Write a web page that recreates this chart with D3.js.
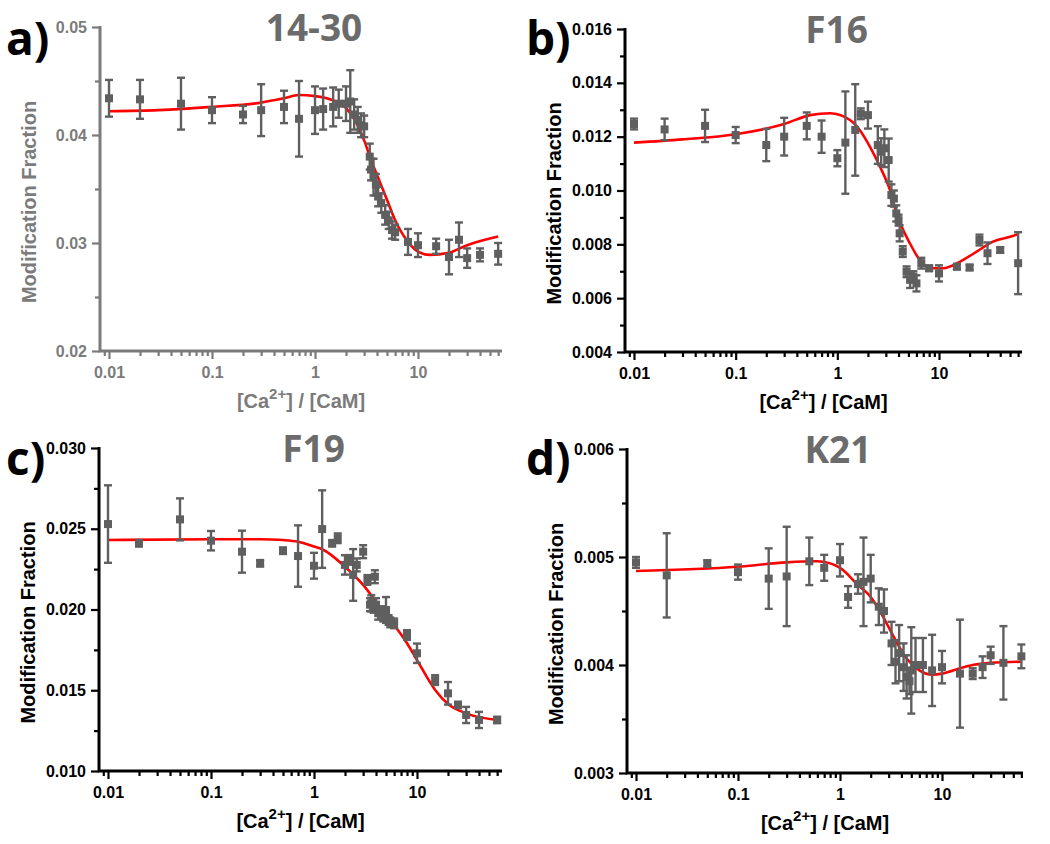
<!DOCTYPE html>
<html><head><meta charset="utf-8">
<script src="https://cdn.jsdelivr.net/npm/d3@7"></script>
<style>body{margin:0;background:#fff}</style>
</head><body><svg id="chart" width="1050" height="844"></svg>
<script>
// ---------- data ----------
const panelLetters = ["a)", "b)", "c)", "d)"];
const panelTitles = ["14-30", "F16", "F19", "K21"];
const xTickValues = [0.01, 0.1, 1, 10];
const xTickLabels = ["0.01", "0.1", "1", "10"];
const xLabelMain = "[Ca";
const xLabelSup = "2+";
const xLabelEnd = "] / [CaM]";
const yLabel = "Modification Fraction";

const yTicksA = [0.02, 0.03, 0.04, 0.05];
const yTicksB = [0.004, 0.006, 0.008, 0.010, 0.012, 0.014, 0.016];
const yTicksC = [0.010, 0.015, 0.020, 0.025, 0.030];
const yTicksD = [0.003, 0.004, 0.005, 0.006];

// panel a: 14-30
const aX = [0.01,0.02,0.05,0.1,0.2,0.3,0.5,0.7,1.0,1.2,1.5,1.7,2.0,2.2,2.4,2.6,2.8,3.0,3.4,3.5,3.7,3.9,4.1,4.4,4.8,5.2,5.6,6.0,8,10,15,20,25,30,40,60];
const aY = [0.0434,0.0433,0.0429,0.0423,0.0419,0.0423,0.0426,0.0415,0.0423,0.0424,0.0426,0.0429,0.0429,0.0431,0.0419,0.0414,0.0409,0.0408,0.0380,0.0368,0.0361,0.0354,0.0343,0.0337,0.0326,0.0321,0.0312,0.0310,0.0301,0.0298,0.0297,0.0287,0.0303,0.0286,0.0289,0.0290];
const aErr = [0.0017,0.0018,0.0024,0.0012,0.0008,0.0024,0.0015,0.0035,0.0022,0.0019,0.0018,0.0013,0.0016,0.0029,0.0014,0.0012,0.0011,0.0010,0.0012,0.0010,0.0017,0.0010,0.0009,0.0009,0.0009,0.0008,0.0008,0.0007,0.0012,0.0011,0.0007,0.0016,0.0016,0.0009,0.0006,0.0010];
const aFitX = [0.01,0.03,0.1,0.3,0.5,0.7,1.0,1.3,1.6,2,2.5,3,3.5,4,5,6,8,10,13,20,30,60];
const aFitY = [0.0422,0.0423,0.0426,0.0430,0.0434,0.0437,0.0436,0.0434,0.0431,0.0425,0.0412,0.0395,0.0377,0.0363,0.0340,0.0321,0.0301,0.0292,0.0289,0.0291,0.0298,0.0306];

// panel b: F16
const bX = [0.01,0.02,0.05,0.1,0.2,0.3,0.5,0.7,1.0,1.2,1.5,1.7,2.0,2.5,2.7,2.9,3.2,3.4,3.6,3.8,4.0,4.1,4.4,4.8,5.2,5.6,6.0,6.7,8,10,15,20,25,30,40,60];
const bY = [0.01247,0.01227,0.01240,0.01206,0.01169,0.01200,0.01240,0.01200,0.01120,0.01178,0.01225,0.01285,0.01280,0.01169,0.01144,0.01157,0.01113,0.00983,0.00970,0.00915,0.00890,0.00841,0.00773,0.00698,0.00668,0.00680,0.00655,0.00730,0.00711,0.00692,0.00717,0.00714,0.00816,0.00767,0.00779,0.00730];
const bErr = [0.0002,0.0004,0.0006,0.0003,0.0006,0.0007,0.0005,0.0006,0.0003,0.0019,0.0017,0.0002,0.0005,0.0007,0.0005,0.0007,0.0008,0.0004,0.0003,0.0003,0.0002,0.0003,0.0002,0.0002,0.0003,0.0002,0.0003,0.0002,0.0001,0.0003,0.0001,0.0001,0.0002,0.0004,0.0001,0.00115];
const bFitX = [0.01,0.03,0.1,0.3,0.54,0.85,1.33,1.66,2.09,2.63,3.29,3.83,4.29,5.17,6.46,8.77,11,16,23.5,34,50,60];
const bFitY = [0.01178,0.01190,0.01209,0.01247,0.01280,0.01287,0.01262,0.01225,0.01163,0.01088,0.01002,0.00915,0.00866,0.00804,0.00742,0.00711,0.00711,0.00735,0.00773,0.00810,0.00828,0.00838];

// panel c: F19
const cX = [0.01,0.02,0.05,0.1,0.2,0.3,0.5,0.7,1.0,1.2,1.5,1.7,2.0,2.2,2.4,2.6,3.0,3.3,3.5,3.6,3.8,3.9,4.0,4.2,4.5,4.7,5.0,5.3,5.5,6.0,8,10,15,20,25,30,40,60];
const cY = [0.02529,0.02410,0.02558,0.02426,0.02358,0.02286,0.02364,0.02331,0.02271,0.02498,0.02410,0.02441,0.02276,0.02307,0.02214,0.02276,0.02358,0.02183,0.02030,0.02038,0.02010,0.02203,0.02030,0.01977,0.01990,0.01956,0.01997,0.01935,0.01920,0.01914,0.01842,0.01729,0.01563,0.01481,0.01409,0.01347,0.01316,0.01316];
const cErr = [0.0024,0.0002,0.0013,0.0006,0.0013,0.0002,0.0002,0.0019,0.0008,0.0024,0.0002,0.0003,0.0006,0.0003,0.0016,0.0004,0.0004,0.0003,0.0004,0.0005,0.0003,0.0004,0.0004,0.0004,0.0003,0.0003,0.0008,0.0003,0.0003,0.0003,0.0003,0.0006,0.0003,0.0007,0.0002,0.0005,0.0005,0.0002];
const cFitX = [0.01,0.1,0.3,0.5,0.7,1.0,1.2,2,3,4,5,6,8,10,15,20,30,60];
const cFitY = [0.0243,0.02435,0.02435,0.0243,0.0242,0.0239,0.02373,0.02265,0.02152,0.02048,0.01966,0.01904,0.01791,0.01687,0.01502,0.01415,0.01357,0.01316];

// panel d: K21
const dX = [0.01,0.02,0.05,0.1,0.2,0.3,0.5,0.7,1.0,1.2,1.5,1.7,2.0,2.4,2.7,3.2,3.5,3.8,4.2,4.5,4.8,5.0,5.5,6.5,8,10,15,20,25,30,40,60];
const dY = [0.00495,0.00483,0.00494,0.00486,0.00480,0.00482,0.00496,0.00490,0.00497,0.00463,0.00475,0.00477,0.00480,0.00454,0.00450,0.00420,0.00403,0.00411,0.00398,0.00389,0.00385,0.00395,0.00400,0.00400,0.00395,0.00398,0.00392,0.00392,0.00398,0.00409,0.00402,0.00408];
const dErr = [0.00005,0.00039,0.00003,0.00007,0.00028,0.00046,0.00022,0.00012,0.00015,0.00010,0.00009,0.00041,0.00022,0.00017,0.00020,0.00020,0.00020,0.00026,0.00022,0.00020,0.00012,0.00040,0.00025,0.00025,0.00033,0.00015,0.00050,0.00005,0.00010,0.00008,0.00034,0.00011];
const dFitX = [0.01,0.1,0.3,0.6,1.0,1.5,2,2.6,3.5,4.5,6,8,10,15,20,30,60];
const dFitY = [0.00487,0.00491,0.00495,0.00496,0.00490,0.00474,0.00463,0.00446,0.00423,0.00406,0.00395,0.00391,0.00392,0.00397,0.00400,0.00402,0.00403];

// ---------- layout ----------
const panels = [
  {letter:panelLetters[0], title:panelTitles[0], xs:aX, ys:aY, es:aErr, fx:aFitX, fy:aFitY, yTicks:yTicksA, fmt:".2f",
   axisX:100, x01:109, x10:418, xEnd:502, yTop:27, yBot:351, axisColor:"#7b7b7b", textColor:"#7b7b7b", letterX:6, letterY:55},
  {letter:panelLetters[1], title:panelTitles[1], xs:bX, ys:bY, es:bErr, fx:bFitX, fy:bFitY, yTicks:yTicksB, fmt:".3f",
   axisX:625, x01:634, x10:939, xEnd:1022, yTop:29, yBot:352, axisColor:"#000", textColor:"#000", letterX:526, letterY:55},
  {letter:panelLetters[2], title:panelTitles[2], xs:cX, ys:cY, es:cErr, fx:cFitX, fy:cFitY, yTicks:yTicksC, fmt:".3f",
   axisX:99, x01:108, x10:417, xEnd:502, yTop:448, yBot:771, axisColor:"#000", textColor:"#000", letterX:6, letterY:475},
  {letter:panelLetters[3], title:panelTitles[3], xs:dX, ys:dY, es:dErr, fx:dFitX, fy:dFitY, yTicks:yTicksD, fmt:".3f",
   axisX:627, x01:636, x10:942, xEnd:1023, yTop:449, yBot:773, axisColor:"#000", textColor:"#000", letterX:526, letterY:475}
];

const svg = d3.select("#chart");
const tickFont = "'Liberation Sans', Arial, sans-serif";
const titleFont = "'Open Sans', sans-serif";
const markColor = "#5f5f5f";

panels.forEach(p => {
  const g = svg.append("g");
  const x = d3.scaleLog().domain([0.01, 10]).range([p.x01, p.x10]);
  const yMin = p.yTicks[0], yMax = p.yTicks[p.yTicks.length - 1];
  const y = d3.scaleLinear().domain([yMin, yMax]).range([p.yBot, p.yTop]);
  const xMin = x.invert(p.axisX), xMax = x.invert(p.xEnd);

  // minor ticks
  const xMinor = [];
  for (let e = -3; e <= 1; e++) for (let k = 2; k <= 9; k++) {
    const v = k * Math.pow(10, e);
    if (v > xMin && v < xMax) xMinor.push(v);
  }
  const yMinor = p.yTicks.slice(0, -1).map((v, i) => (v + p.yTicks[i + 1]) / 2);

  // Y axis
  const yAx = g.append("g").attr("transform", `translate(${p.axisX},0)`)
    .call(d3.axisLeft(y).tickValues(p.yTicks).tickFormat(d3.format(p.fmt)).tickSize(8).tickPadding(5));
  const yAxMinor = g.append("g").attr("transform", `translate(${p.axisX},0)`)
    .call(d3.axisLeft(y).tickValues(yMinor).tickFormat("").tickSize(5));
  // X axis
  const xAx = g.append("g").attr("transform", `translate(0,${p.yBot})`)
    .call(d3.axisBottom(x).tickValues(xTickValues).tickFormat((d, i) => xTickLabels[i]).tickSize(8).tickPadding(8));
  const xAxMinor = g.append("g").attr("transform", `translate(0,${p.yBot})`)
    .call(d3.axisBottom(x).tickValues(xMinor).tickFormat("").tickSize(5));

  [yAx, yAxMinor, xAx, xAxMinor].forEach(a => {
    a.select(".domain").remove();
    a.selectAll(".tick line").attr("stroke", p.axisColor).attr("stroke-width", 2.2);
    a.selectAll(".tick text").attr("fill", p.textColor)
      .style("font-family", tickFont).style("font-weight", "bold").style("font-size", "16px");
  });

  g.append("path")
    .attr("d", `M${p.axisX},${p.yTop - 1}V${p.yBot}H${p.xEnd}`)
    .attr("fill", "none").attr("stroke", p.axisColor).attr("stroke-width", 3);

  // fit line
  const line = d3.line().x(d => x(d[0])).y(d => y(d[1])).curve(d3.curveMonotoneX);
  g.append("path").datum(p.fx.map((v, i) => [v, p.fy[i]]))
    .attr("d", line).attr("fill", "none").attr("stroke", "#ff0000").attr("stroke-width", 2.6);

  // error bars and markers
  const pts = p.xs.map((v, i) => ({x: v, y: p.ys[i], e: p.es[i]}));
  const eb = g.append("g").attr("stroke", markColor).attr("stroke-width", 2.4);
  pts.forEach(d => {
    const cx = x(d.x), y1 = y(d.y + d.e), y2 = y(d.y - d.e);
    eb.append("line").attr("x1", cx).attr("x2", cx).attr("y1", y1).attr("y2", y2);
    eb.append("line").attr("x1", cx - 4).attr("x2", cx + 4).attr("y1", y1).attr("y2", y1);
    eb.append("line").attr("x1", cx - 4).attr("x2", cx + 4).attr("y1", y2).attr("y2", y2);
  });
  g.append("g").selectAll("rect").data(pts).join("rect")
    .attr("x", d => x(d.x) - 4).attr("y", d => y(d.y) - 4)
    .attr("width", 8).attr("height", 8).attr("fill", markColor);

  // labels
  const cxAxis = (p.axisX + p.xEnd) / 2;
  const xl = g.append("text").attr("x", cxAxis).attr("y", p.yBot + 57)
    .attr("text-anchor", "middle").attr("fill", p.textColor)
    .style("font-family", tickFont).style("font-weight", "bold").style("font-size", "20px");
  xl.append("tspan").text(xLabelMain);
  xl.append("tspan").attr("dy", -9).style("font-size", "15px").text(xLabelSup);
  xl.append("tspan").attr("dy", 9).text(xLabelEnd);

  const cyAxis = (p.yTop + p.yBot) / 2 + 13;
  g.append("text").attr("transform", `translate(${p.axisX - 64},${cyAxis}) rotate(-90)`)
    .attr("text-anchor", "middle").attr("fill", p.textColor)
    .style("font-family", tickFont).style("font-weight", "bold").style("font-size", "20px")
    .text(yLabel);

  g.append("text").attr("x", cxAxis + 13).attr("y", p.yTop + 14)
    .attr("text-anchor", "middle").attr("fill", "#6b6b6b")
    .style("font-family", titleFont).style("font-weight", "bold").style("font-size", "37px")
    .text(p.title);

  g.append("text").attr("x", p.letterX).attr("y", p.letterY)
    .attr("fill", "#000")
    .style("font-family", titleFont).style("font-weight", "bold").style("font-size", "46px")
    .text(p.letter);
});
</script>
</body></html>
